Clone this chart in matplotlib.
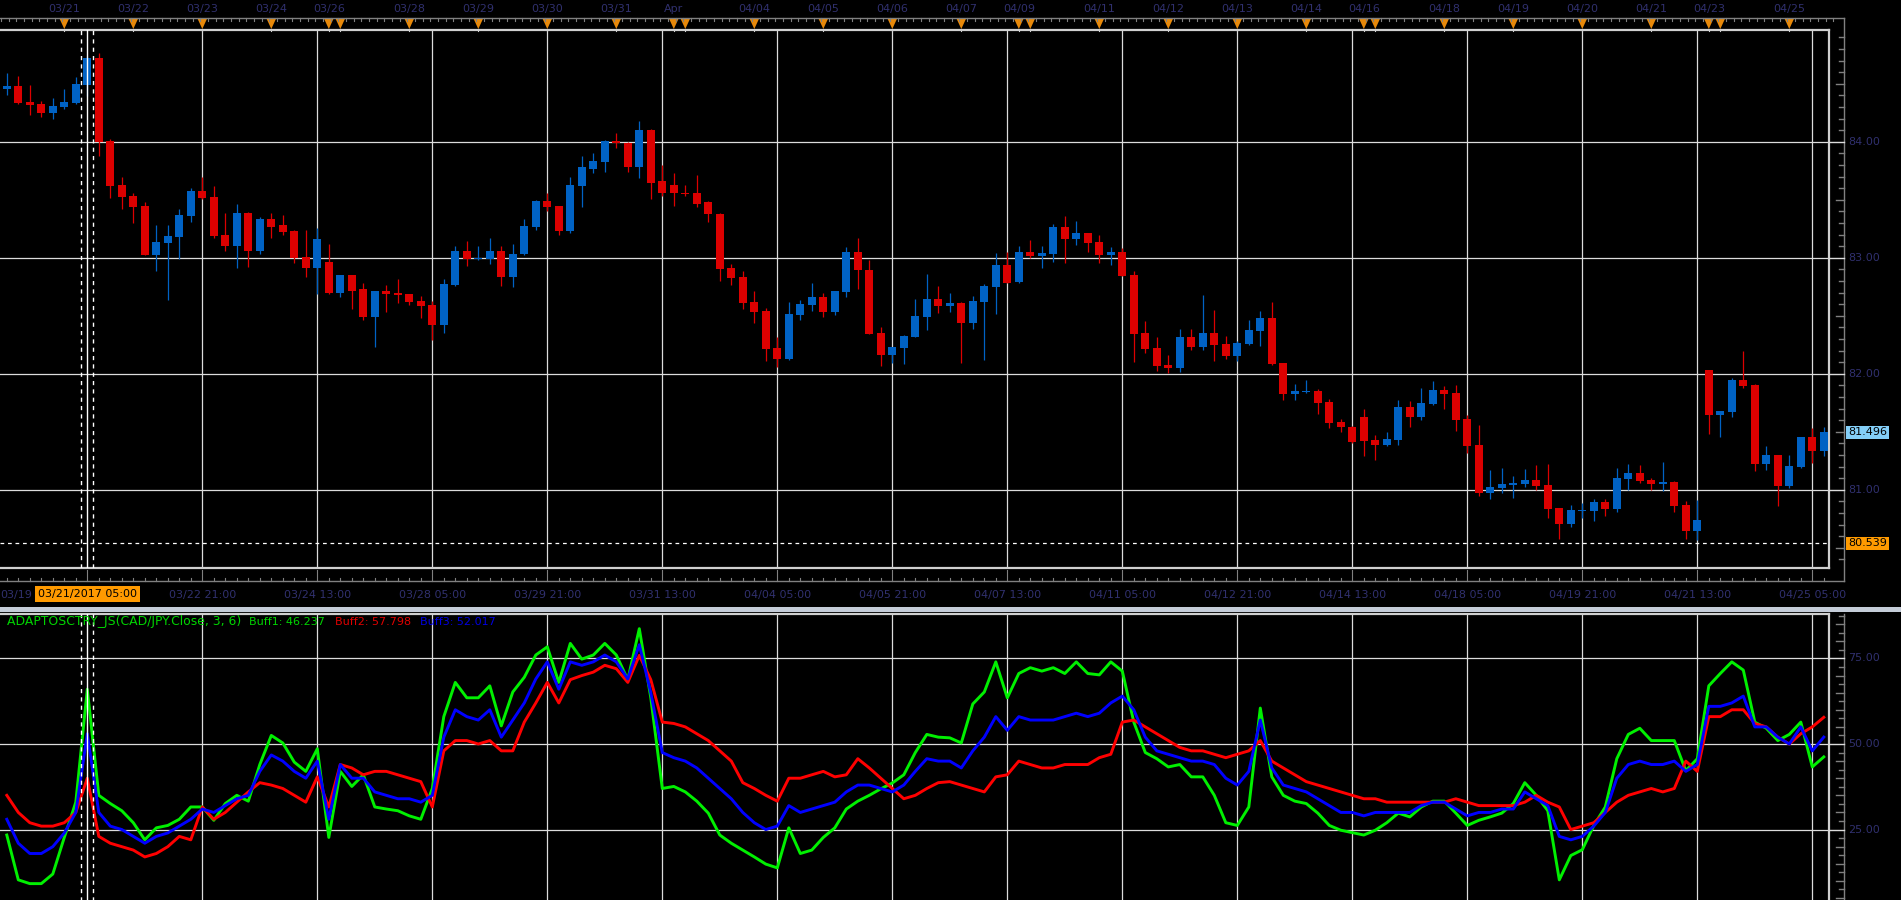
import numpy as np
import matplotlib
matplotlib.use("Agg")
import matplotlib.pyplot as plt
from matplotlib.transforms import blended_transform_factory as btf
from matplotlib.patches import Rectangle, Polygon

# ---------------- data (4H candles CAD/JPY) ----------------
opens = [84.459,84.482,84.345,84.327,84.250,84.301,84.336,84.491,84.724,84.009,
         83.629,83.534,83.448,83.026,83.129,83.181,83.362,83.577,83.526,83.198,
         83.103,83.388,83.060,83.336,83.279,83.227,83.003,82.908,82.960,82.693,
         82.848,82.727,82.486,82.710,82.693,82.684,82.624,82.589,82.417,82.762,
         83.055,82.986,82.986,83.055,82.831,83.029,83.262,83.494,83.443,83.227,
         83.615,83.770,83.822,84.003,83.994,83.787,84.106,83.658,83.624,83.563,
         83.555,83.477,83.382,82.908,82.831,82.615,82.537,82.218,82.124,82.503,
         82.589,82.658,82.529,82.701,83.046,82.899,82.353,82.162,82.223,82.318,
         82.492,82.648,82.587,82.613,82.440,82.622,82.752,82.934,82.795,83.046,
         83.012,83.029,83.263,83.159,83.211,83.133,83.020,83.046,82.856,82.353,
         82.223,82.075,82.049,82.318,82.231,82.353,82.257,82.153,82.257,82.370,
         82.483,82.093,81.824,81.841,81.850,81.755,81.581,81.545,81.625,81.425,
         81.387,81.425,81.710,81.623,81.735,81.856,81.830,81.606,81.382,80.968,
         81.011,81.037,81.046,81.080,81.037,80.839,80.701,80.813,80.813,80.891,
         80.830,81.089,81.141,81.080,81.046,81.063,80.865,80.641,82.029,81.641,
         81.667,81.942,81.899,81.218,81.296,81.029,81.193,81.451,81.330]
highs = [84.594,84.569,84.491,84.353,84.379,84.457,84.560,84.741,84.767,84.026,
         83.698,83.560,83.482,83.284,83.284,83.422,83.603,83.698,83.620,83.388,
         83.465,83.395,83.353,83.388,83.365,83.244,83.236,83.253,83.115,82.850,
         82.856,82.779,82.718,82.762,82.813,82.690,82.667,82.624,82.813,83.106,
         83.141,83.106,83.167,83.098,83.115,83.331,83.497,83.563,83.446,83.693,
         83.874,83.908,84.012,84.072,83.997,84.184,84.110,83.796,83.727,83.624,
         83.718,83.494,83.385,82.943,82.882,82.710,82.563,82.313,82.615,82.632,
         82.779,82.693,82.718,83.089,83.167,82.977,82.405,82.235,82.335,82.648,
         82.864,82.760,82.700,82.622,82.674,82.778,83.038,83.046,83.099,83.151,
         83.099,83.289,83.359,83.315,83.215,83.194,83.090,83.081,82.890,82.457,
         82.318,82.162,82.388,82.388,82.682,82.552,82.327,82.283,82.465,82.544,
         82.622,82.095,81.911,81.945,81.867,81.781,81.607,81.548,81.694,81.474,
         81.500,81.770,81.761,81.873,81.934,81.891,81.899,81.641,81.555,81.167,
         81.184,81.115,81.175,81.210,81.218,80.842,80.865,80.882,80.917,80.917,
         81.184,81.218,81.210,81.097,81.235,81.072,80.899,80.908,82.035,81.680,
         81.960,82.192,81.908,81.373,81.300,81.296,81.455,81.529,81.537]
lows = [84.408,84.327,84.232,84.215,84.198,84.284,84.327,84.396,83.879,83.517,
        83.422,83.301,83.020,82.888,82.638,82.991,83.310,83.510,83.172,83.060,
        82.914,82.922,83.034,83.172,83.193,82.951,82.831,82.684,82.690,82.658,
        82.555,82.460,82.227,82.529,82.606,82.589,82.477,82.287,82.348,82.760,
        82.925,82.977,82.943,82.753,82.744,83.025,83.236,83.400,83.193,83.218,
        83.434,83.727,83.736,83.943,83.736,83.684,83.503,83.537,83.443,83.529,
        83.434,83.305,82.796,82.762,82.555,82.434,82.106,82.060,82.120,82.460,
        82.537,82.486,82.503,82.658,82.727,82.340,82.067,82.093,82.084,82.315,
        82.379,82.526,82.535,82.093,82.388,82.119,82.518,82.783,82.786,82.994,
        82.908,82.968,82.951,83.107,83.046,82.951,82.934,82.845,82.101,82.180,
        82.023,82.006,82.015,82.205,82.205,82.110,82.127,82.110,82.249,82.240,
        82.075,81.772,81.772,81.833,81.651,81.529,81.494,81.405,81.295,81.257,
        81.379,81.382,81.537,81.598,81.733,81.692,81.503,81.313,80.942,80.917,
        80.968,80.925,81.020,80.994,80.753,80.572,80.675,80.753,80.727,80.770,
        80.804,80.994,81.054,80.994,80.985,80.804,80.572,80.563,81.477,81.451,
        81.623,81.873,81.158,81.167,80.856,81.011,81.184,81.227,81.287]
closes = [84.482,84.336,84.319,84.250,84.310,84.345,84.500,84.724,84.000,83.620,
          83.526,83.439,83.026,83.138,83.189,83.370,83.577,83.517,83.189,83.103,
          83.388,83.060,83.336,83.267,83.221,82.994,82.908,83.158,82.693,82.848,
          82.718,82.486,82.710,82.684,82.675,82.615,82.581,82.417,82.770,83.055,
          82.986,82.994,83.055,82.831,83.037,83.270,83.494,83.434,83.227,83.624,
          83.779,83.831,84.003,83.986,83.787,84.106,83.649,83.555,83.555,83.546,
          83.468,83.374,82.900,82.822,82.606,82.529,82.210,82.124,82.512,82.598,
          82.658,82.529,82.710,83.046,82.891,82.344,82.162,82.231,82.327,82.500,
          82.648,82.587,82.613,82.440,82.630,82.760,82.934,82.786,83.046,83.012,
          83.038,83.263,83.159,83.211,83.124,83.020,83.046,82.847,82.344,82.214,
          82.067,82.049,82.318,82.231,82.353,82.249,82.153,82.266,82.379,82.483,
          82.084,81.824,81.850,81.850,81.746,81.573,81.538,81.408,81.416,81.387,
          81.434,81.710,81.623,81.744,81.856,81.822,81.598,81.373,80.968,81.020,
          81.046,81.054,81.080,81.029,80.830,80.701,80.822,80.822,80.891,80.830,
          81.097,81.141,81.072,81.046,81.063,80.856,80.641,80.735,81.641,81.675,
          81.942,81.891,81.218,81.296,81.029,81.201,81.451,81.330,81.496]

buff1 = [23.4,10.3,9.2,9.2,12,22.7,33,66,35,32.6,
         30.5,27,22,25.5,26.2,28,31.6,31.6,27.7,32.6,
         35,33.3,44,52.5,50.3,44.7,42,48.6,22.7,42,
         37.6,41,31.6,31,30.5,29,28,37,58,68,
         63.5,63.5,67,55.3,65.2,69.5,76,78.4,68,79.4,
         74.8,76,79.4,76,68.8,83.7,63.5,37,37.6,36,
         33.3,29.8,23.4,21,19,17,14.9,13.8,25.5,18,
         19,22.7,25.5,31,33.3,35,36.9,38.6,41,47.5,
         52.8,52,51.8,50.3,61.7,65.2,74,63.5,70.6,72.3,
         71.3,72.3,70.6,74,70.6,70.2,74,71.3,56.4,47.5,
         45.7,43.3,44,40.4,40.4,35,27,26.2,31.6,60.5,
         40.4,35,33.3,32.6,29.8,26.2,24.8,24.1,23.4,24.8,
         27,29.8,28.7,31.6,33.3,33.3,29.8,26.2,27.7,28.7,
         29.8,32.6,38.7,35,30.5,10.3,17.4,19.1,26.2,31.6,
         45.7,52.8,54.6,51,51,51,42.2,45.7,67,70.6,
         74,71.6,56.4,54.6,51,52.8,56.4,43.3,46.237]
buff2 = [35,30,27,26,26,27,30,40,23,21,
         20,19,17,18,20,23,22,31.6,28,30,
         33,36,38.7,38,37,35,33,40.4,31.6,44,
         43,41,42,42,41,40,39,31.6,48,51,
         51,50,51,48,48,56.4,62,68,62,68.8,
         70,71,73,72,68,75.9,68.8,56.4,56,55,
         53,51,48,45,38.7,37,35,33.3,40,40,
         41,42,40.4,41,45.7,43,40,37,34,35,
         37,38.7,39,38,37,36,40.4,41,45,44,
         43,43,44,44,44,46,47,56.4,57,55,
         53,51,49,48,48,47,46,47,48,51,
         45,43,41,39,38,37,36,35,34,34,
         33,33,33,33,33,33,34,33,32,32,
         32,32,33,35,33,31.6,25,26,27,30,
         33,35,36,37,36,37,45,42,58,58,
         60,60,56,55,52,50,53,55,57.798]
buff3 = [28,21,18,18,20,24,30,53,30,26,
         25,23,21,23,24,26,28,31,30,32,
         34,35,42,46.8,45,42,40,45,28,44,
         40,40,36,35,34,34,33,35,52,60,
         58,57,60,52,57,62,69,74,66,74,
         73,74,76,74,69,79,65,47.5,46,45,
         43,40,37,34,30,27,25,26,32,30,
         31,32,33,36,38,38,37,36,38,42,
         45.7,45,45,43,48,52,58,54,58,57,
         57,57,58,59,58,59,62,64,60,52,
         48,47,46,45,45,44,40,38,42,57,
         43,38,37,36,34,32,30,30,29,30,
         30,30,30,32,33,33,31,29,30,30,
         31,31,36,34,32,23,22,23,26,30,
         40,44,45,44,44,45,42,44,61,61,
         62,64,55,55,52,50,55,48,52.017]

time_labels = ["03/22 21:00","03/24 13:00","03/28 05:00","03/29 21:00","03/31 13:00",
               "04/04 05:00","04/05 21:00","04/07 13:00","04/11 05:00","04/12 21:00",
               "04/14 13:00","04/18 05:00","04/19 21:00","04/21 13:00","04/25 05:00"]
time_label_idx = [17,27,37,47,57,67,77,87,97,107,117,127,137,147,157]
day_labels = ["03/21","03/22","03/23","03/24","03/26","03/28","03/29","03/30","03/31","Apr",
              "04/04","04/05","04/06","04/07","04/09","04/11","04/12","04/13","04/14","04/16",
              "04/18","04/19","04/20","04/21","04/23","04/25"]
day_label_idx = [5,11,17,23,28,35,41,47,53,58,65,71,77,83,88,95,101,107,113,118,
                 125,131,137,143,148,155]
extra_marker_idx = [29,59,89,119,149]
price_ticks = [81,82,83,84]
osc_ticks = [25,50,75]
last_price = 81.496
cross_price = 80.539
cross_idx = 7
cross_label = "03/21/2017 05:00"
left_label = "03/19"
legend_parts = [("ADAPTOSCTRY_JS(CAD/JPY.Close, 3, 6)", "#00d400", 8.9),
                ("Buff1: 46.237", "#00d400", 8),
                ("Buff2: 57.798", "#e00000", 8),
                ("Buff3: 52.017", "#0000e0", 8)]

# ---------------- style ----------------
W, H = 1901, 900
BG = "black"
UP = "#0062c4"
DN = "#dc0000"
GRID = "#dcdcdc"
FRAME = "#d0d0d0"
AXC = "#808080"
NAVY = "#30306e"
FS = 8

fig = plt.figure(figsize=(W/100, H/100), dpi=100, facecolor=BG)

X0, DX = 6.8, 11.5       # pixel of first candle, candle spacing
PR = 1829                # right edge of plot boxes
xl = (-X0/DX, (PR - X0)/DX)

ax = fig.add_axes([0, 1 - 568/H, PR/W, (568 - 30.4)/H], facecolor=BG)
ax.set_xlim(*xl)
ax.set_ylim(80.325, 84.961)
ax2 = fig.add_axes([0, 1 - 903/H, PR/W, (903 - 613.5)/H], facecolor=BG)
ax2.set_xlim(*xl)
ax2.set_ylim(50 - (903 - 744)/3.422, 50 + (744 - 613.5)/3.422)

for a in (ax, ax2):
    a.set_xticks([]); a.set_yticks([])
    for s in a.spines.values():
        s.set_color(FRAME); s.set_linewidth(1.6)
    a.spines["left"].set_visible(False)
ax2.spines["bottom"].set_visible(False)

# grid
for p in price_ticks:
    ax.axhline(p, color=GRID, lw=0.9, zorder=1)
for v in osc_ticks:
    ax2.axhline(v, color=GRID, lw=0.9, zorder=1)
for i in time_label_idx:
    ax.axvline(i, color=GRID, lw=0.9, zorder=1)
    ax2.axvline(i, color=GRID, lw=0.9, zorder=1)

# candles
o = np.array(opens); h = np.array(highs); l = np.array(lows); c = np.array(closes)
h = np.maximum(h, np.maximum(o, c)); l = np.minimum(l, np.minimum(o, c))
idx = np.arange(len(o))
cols = np.where(c >= o, UP, DN)
ax.vlines(idx, l, h, colors=cols, lw=0.9, zorder=3)
ax.bar(idx, np.maximum(np.abs(c - o), 0.012), bottom=np.minimum(o, c), width=0.7,
       color=cols, edgecolor="none", zorder=4)

# oscillator
ax2.plot(idx, buff1, color="#00f000", lw=2.1, zorder=3)
ax2.plot(idx, buff2, color="#ff0000", lw=2.1, zorder=3)
ax2.plot(idx, buff3, color="#0000ff", lw=2.1, zorder=3)

# crosshair
for a in (ax, ax2):
    a.axvline(cross_idx, color="white", lw=1.0, zorder=5)
    a.axvline(cross_idx - 0.52, color="white", lw=1.0, ls=(0, (3, 3)), zorder=5)
    a.axvline(cross_idx + 0.52, color="white", lw=1.0, ls=(0, (3, 3)), zorder=5)
ax.axhline(cross_price, color="white", lw=0.9, ls=(0, (3, 3)), zorder=5)

# ---------------- overlay (axes furniture) ----------------
ov = fig.add_axes([0, 0, 1, 1])
ov.set_xlim(0, W); ov.set_ylim(H, 0); ov.axis("off")
ov.set_zorder(10)

AXX = 1844
TOPY, BOTY = 18.3, 581
ov.plot([0, AXX], [TOPY, TOPY], color=AXC, lw=1.0)
ov.plot([AXX, AXX], [TOPY, BOTY], color=AXC, lw=1.0)
ov.plot([0, AXX], [BOTY, BOTY], color=AXC, lw=1.0)
ov.plot([AXX, AXX], [614, H], color=AXC, lw=1.0)
ov.add_patch(Rectangle((0, 606.5), W, 5, fc="#c4ccd8", ec="none"))

# right price axis
Tp = btf(ov.transData, ax.transData)
for k in range(804, 850):
    p = k / 10
    ln = 15 if k % 10 == 0 else (8 if k % 5 == 0 else 5)
    ov.plot([AXX - ln, AXX], [p, p], transform=Tp, color=AXC if ln < 15 else GRID, lw=1.0)
for p in price_ticks:
    ov.text(AXX + 4, p, f"{p:.2f}", transform=Tp, color=NAVY, fontsize=FS, va="center", ha="left")
ov.text(AXX + 4, last_price, f"{last_price:.3f}", transform=Tp, color="black", fontsize=FS,
        va="center", ha="left", bbox=dict(boxstyle="square,pad=0.15", fc="#84cff8", ec="none"))
ov.text(AXX + 4, cross_price, f"{cross_price:.3f}", transform=Tp, color="black", fontsize=FS,
        va="center", ha="left", bbox=dict(boxstyle="square,pad=0.15", fc="#ff9a00", ec="none"))

# right oscillator axis
To = btf(ov.transData, ax2.transData)
for k in range(2, 36):
    v = k * 2.5
    ln = 15 if k % 10 == 0 else (8 if k % 2 == 0 else 5)
    ov.plot([AXX - ln, AXX], [v, v], transform=To, color=AXC if ln < 15 else GRID, lw=1.0)
for v in osc_ticks:
    ov.text(AXX + 4, v, f"{v:.2f}", transform=To, color=NAVY, fontsize=FS, va="center", ha="left")

# top (date) axis
Tx = btf(ax.transData, ov.transData)
for t in np.arange(-0.5, 159.5, 2/3):
    ov.plot([t, t], [TOPY, TOPY + 3], transform=Tx, color=AXC, lw=0.8)
for m in day_label_idx + extra_marker_idx:
    ov.add_patch(Polygon([(m - 0.4, 19), (m + 0.4, 19), (m, 29)], closed=True,
                         transform=Tx, fc="#e8890a", ec="none"))
    ov.plot([m, m], [29, 31], transform=Tx, color="#d0d0d0", lw=0.8)
for lab, m in zip(day_labels, day_label_idx):
    ov.text(m, 9, lab, transform=Tx, color=NAVY, fontsize=FS, ha="center", va="center")

# bottom (time) axis
for t in range(-3, 159):
    major = (t - 7) % 10 == 0
    ov.plot([t, t], [BOTY - (11 if major else 3), BOTY], transform=Tx, color=AXC, lw=0.8)
for lab, m in zip(time_labels, time_label_idx):
    ov.text(m, 595, lab, transform=Tx, color=NAVY, fontsize=FS, ha="center", va="center")
ov.text(0, 595, left_label, color=NAVY, fontsize=FS, ha="left", va="center")
ov.text(cross_idx, 594, cross_label, transform=Tx, color="black", fontsize=FS, ha="center",
        va="center", bbox=dict(boxstyle="square,pad=0.27", fc="#ff9a00", ec="none"))

# legend of oscillator
xs = [6.7, 248.7, 335, 420.5]
for (txt, col, fs), x in zip(legend_parts, xs):
    ov.text(x, 622, txt, color=col, fontsize=fs, ha="left", va="center")

fig.savefig("out.png", dpi=100, facecolor=BG)
